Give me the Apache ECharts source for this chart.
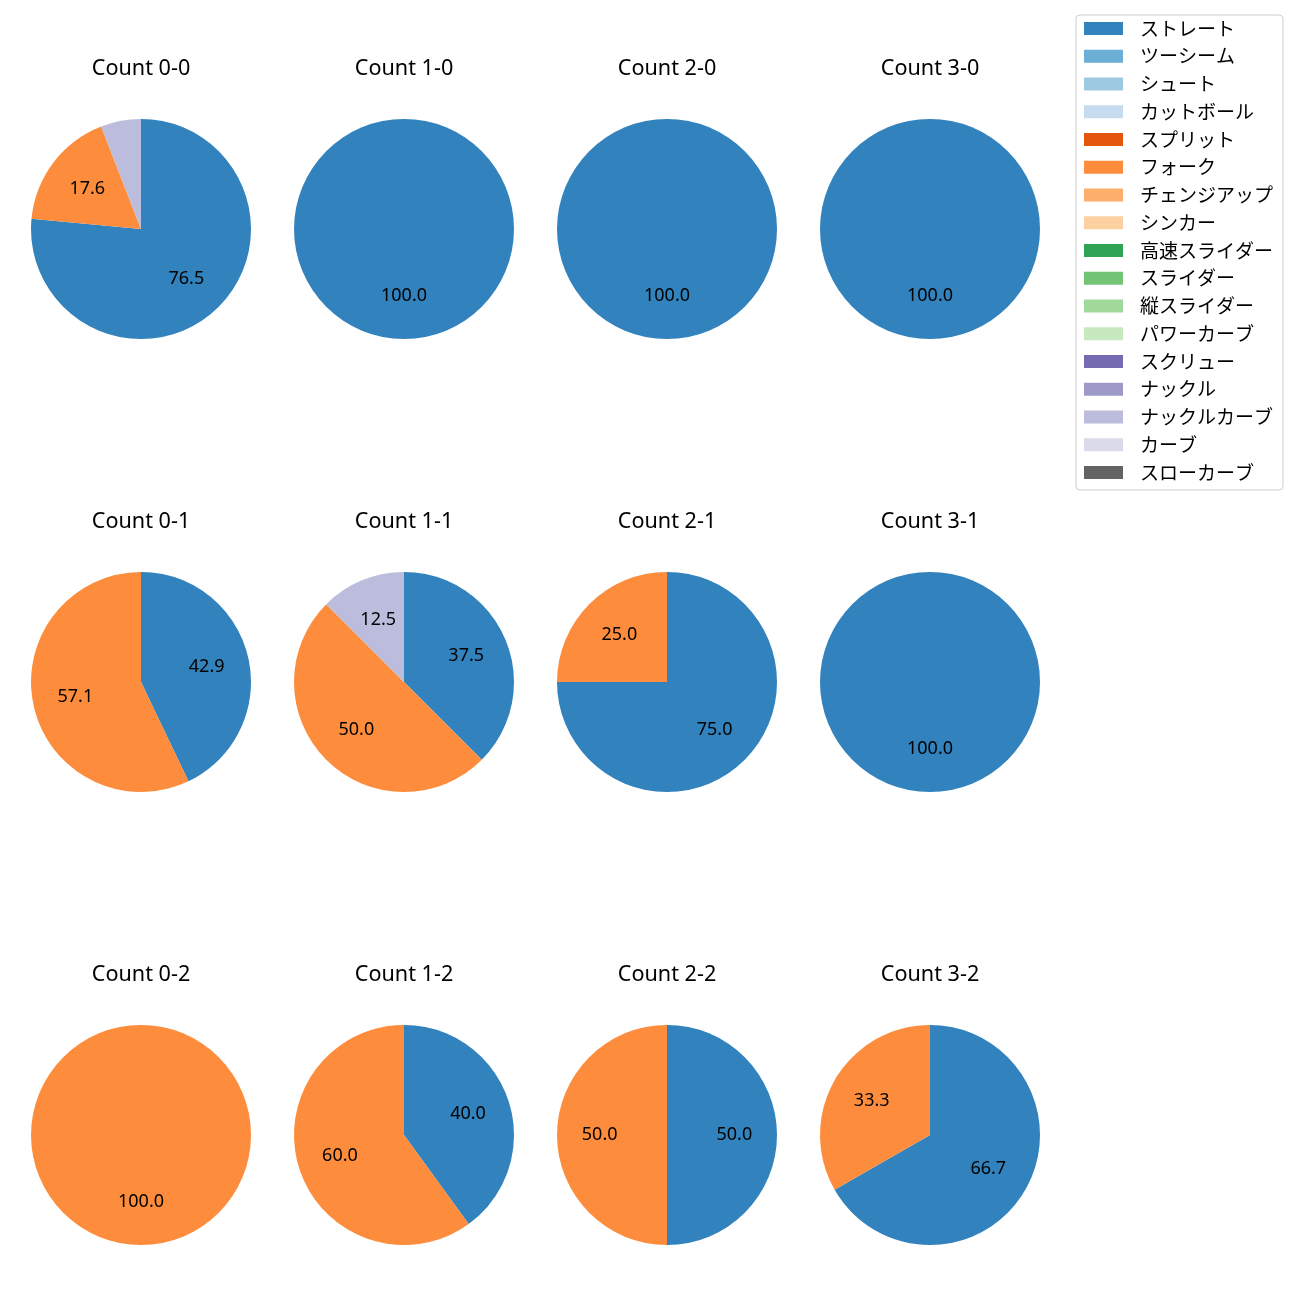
<!DOCTYPE html>
<html><head><meta charset="utf-8">
<script src="https://cdn.jsdelivr.net/npm/echarts@6/dist/echarts.min.js"></script>
<style>html,body{margin:0;padding:0;background:#fff}#c{width:1300px;height:1300px}</style>
</head><body><div id="c"></div>
<script>
const categories = ['ストレート','ツーシーム','シュート','カットボール','スプリット','フォーク','チェンジアップ','シンカー','高速スライダー','スライダー','縦スライダー','パワーカーブ','スクリュー','ナックル','ナックルカーブ','カーブ','スローカーブ'];
const colors = ['#3182bd','#6baed6','#9ecae1','#c6dbef','#e6550d','#fd8d3c','#fdae6b','#fdd0a2','#31a354','#74c476','#a1d99b','#c7e9c0','#756bb1','#9e9ac8','#bcbddc','#dadaeb','#636363'];
const panelTitles = ['Count 0-0','Count 1-0','Count 2-0','Count 3-0','Count 0-1','Count 1-1','Count 2-1','Count 3-1','Count 0-2','Count 1-2','Count 2-2','Count 3-2'];
const straight     = [76.5, 100, 100, 100, 42.9, 37.5, 75, 100, 0, 40, 50, 66.7];
const fork         = [17.6, 0, 0, 0, 57.1, 50.0, 25, 0, 100, 60, 50, 33.3];
const knuckleCurve = [5.9, 0, 0, 0, 0, 12.5, 0, 0, 0, 0, 0, 0];

const colX = [141, 404, 667, 930];
const rowY = [229, 682, 1135];
const R = 110;
const FONT = "'Noto Sans', 'Noto Sans CJK JP', sans-serif";

const seriesVisible = [], seriesLabels = [], titles = [];
panelTitles.forEach((t, i) => {
  const cx = colX[i % 4], cy = rowY[Math.floor(i / 4)];
  const vals = {};
  vals['ストレート'] = straight[i];
  vals['フォーク'] = fork[i];
  vals['ナックルカーブ'] = knuckleCurve[i];
  const data = categories.map((n, k) => ({name: n, value: vals[n] || 0, itemStyle: {color: colors[k]}}));
  seriesVisible.push({
    type: 'pie', center: [cx, cy], radius: [0, R], startAngle: 90, clockwise: true,
    label: {show: false}, labelLine: {show: false}, silent: true, emphasis: {disabled: true},
    itemStyle: {borderWidth: 0}, data: data
  });
  seriesLabels.push({
    type: 'pie', center: [cx, cy], radius: [R * 0.17, R], startAngle: 90, clockwise: true,
    silent: true, emphasis: {disabled: true}, labelLine: {show: false},
    itemStyle: {color: 'rgba(0,0,0,0)', borderWidth: 0},
    label: {show: true, position: 'inside', color: '#000', fontSize: 18, fontFamily: FONT,
      formatter: p => (p.value >= 10 ? p.value.toFixed(1) : '')},
    data: categories.map(n => ({name: n, value: vals[n] || 0}))
  });
  titles.push({text: t, left: cx, top: cy - 171, textAlign: 'center', padding: 0,
    textStyle: {fontSize: 21.6, fontWeight: 'normal', color: '#000', fontFamily: FONT}});
});

const chart = echarts.init(document.getElementById('c'), null, {renderer: 'canvas'});
chart.setOption({
  animation: false,
  title: titles,
  legend: {
    orient: 'vertical', left: 1076, top: 15,
    padding: [4, 10, 8, 8],
    borderColor: '#cccccc', borderWidth: 1, borderRadius: 4,
    itemWidth: 39, itemHeight: 13, itemGap: 8.75,
    icon: 'rect',
    textStyle: {fontSize: 19, color: '#000', fontFamily: "'Noto Sans CJK JP', sans-serif", padding: [0, 0, 0, 12], lineHeight: 18},
    data: categories.map((n, k) => ({name: n, itemStyle: {color: colors[k]}})),
    selectedMode: false
  },
  series: seriesVisible.concat(seriesLabels)
});
</script></body></html>
